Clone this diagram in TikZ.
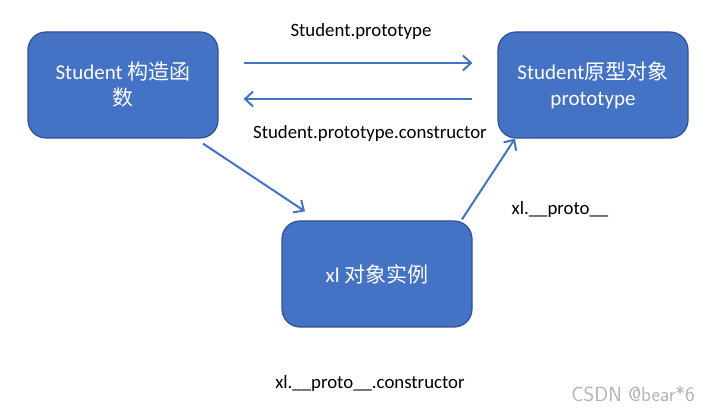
\documentclass[tikz,border=0pt]{standalone}
\usepackage{fontspec}
\setmainfont{Carlito}
\newfontfamily\cjk{Noto Sans CJK SC}
\usetikzlibrary{arrows.meta}
\definecolor{boxblue}{HTML}{4472C4}
\definecolor{boxedge}{HTML}{2F528F}
\tikzstyle{objbox}=[draw=boxedge,fill=boxblue,line width=1.2pt,rounded corners=18pt,minimum width=190pt,minimum height=106pt,text=white,align=center,font=\fontsize{21}{26}\selectfont]
\tikzstyle{link}=[draw=boxblue,line width=2pt,-{Straight Barb[length=8pt,width=15pt,line width=2pt]}]
\tikzstyle{lbl}=[font=\fontsize{18.8}{22}\selectfont]

\begin{document}
\begin{tikzpicture}[x=1pt,y=1pt]
      \useasboundingbox (0,0) rectangle (717,412);

      \node[objbox] (ctor) at (123,327) {Student {\cjk 构造函}\\{\cjk 数}};
      \node[objbox] (proto) at (593,327) {Student{\cjk 原型对象}\\prototype};
      \node[objbox,text depth=0pt] (xl) at (377,138) {xl {\cjk 对象实例}};

      \draw[link] ([xshift=25pt,yshift=22pt]ctor.east) to ([xshift=-25pt,yshift=22pt]proto.west);
      \draw[link] ([xshift=-25pt,yshift=-14pt]proto.west) to ([xshift=25pt,yshift=-14pt]ctor.east);
      \draw[link] ([xshift=80pt,yshift=-5pt]ctor.south) to ([xshift=-72pt,yshift=9pt]xl.north);
      \draw[link] ([xshift=85pt,yshift=1pt]xl.north) to ([xshift=-78pt,yshift=0pt]proto.south);

      \node[lbl] (ptop) at (361,381) {Student.prototype};
      \node[lbl] (pcon) at (370,279) {Student.prototype.constructor};
      \node[lbl] (xlp) at (560,203) {xl.\_\_proto\_\_};
      \node[lbl] (xlc) at (370,29) {xl.\_\_proto\_\_.constructor};
      \node[font=\fontsize{20.5}{24}\selectfont\sffamily,text=black!30] (mark) at (633,18) {CSDN @bear*6};
\end{tikzpicture}
\end{document}
